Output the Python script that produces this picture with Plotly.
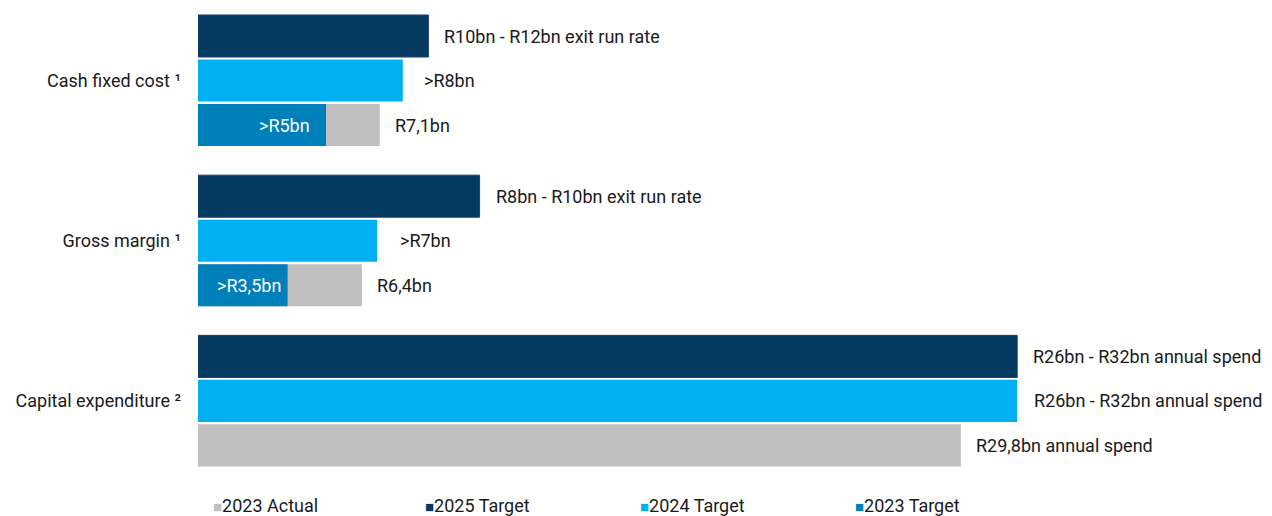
import plotly.graph_objects as go

# Categories (top to bottom) and the values behind each bar, in R billion
categories = ["Cash fixed cost ¹", "Gross margin ¹", "Capital expenditure ²"]
target_2025 = [9.0, 11.0, 32.0]
target_2024 = [8.0, 7.0, 32.0]
actual_2023 = [7.1, 6.4, 29.8]
target_2023 = [5.0, 3.5, None]

labels_2025 = ["R10bn - R12bn exit run rate", "R8bn - R10bn exit run rate", "R26bn - R32bn annual spend"]
labels_2024 = [">R8bn", ">R7bn", "R26bn - R32bn annual spend"]
labels_actual = ["R7,1bn", "R6,4bn", "R29,8bn annual spend"]
labels_t2023 = [">R5bn", ">R3,5bn", None]

legend_names = ["2023 Actual", "2025 Target", "2024 Target", "2023 Target"]

C_NAVY = "#053A60"
C_NAVY_EDGE = "#1E3F7C"
C_LIGHT = "#00B0F0"
C_MID = "#0080BA"
C_GREY = "#BFBFBF"
TXT = "#1A1A1A"
FONT = "Roboto"
FS = 18

W, H = 1272, 516
ML, MR, MT, MB = 198, 12, 0, 46
PW = W - ML - MR

# row layout: each group holds three rows, groups spaced 3.6 rows apart
GROUP = 3.6
y25 = [g * GROUP + 0 for g in range(3)]
y24 = [g * GROUP + 1 for g in range(3)]
y23 = [g * GROUP + 2 for g in range(3)]

fig = go.Figure()
BW = 0.945
fig.add_trace(go.Bar(y=y23, x=actual_2023, orientation="h", width=BW,
                     marker=dict(color=C_GREY, line=dict(width=0)), name=legend_names[0]))
fig.add_trace(go.Bar(y=y25, x=target_2025, orientation="h", width=BW,
                     marker=dict(color=C_NAVY, line=dict(color=C_NAVY_EDGE, width=1)), name=legend_names[1]))
fig.add_trace(go.Bar(y=y24, x=target_2024, orientation="h", width=BW,
                     marker=dict(color=C_LIGHT, line=dict(width=0)), name=legend_names[2]))
t23_y = [y for y, v in zip(y23, target_2023) if v is not None]
t23_x = [v for v in target_2023 if v is not None]
fig.add_trace(go.Bar(y=t23_y, x=t23_x, orientation="h", width=BW,
                     marker=dict(color=C_MID, line=dict(width=0)), name=legend_names[3]))

ann = []
def end_label(x, y, text, shift):
    ann.append(dict(x=x, y=y, xref="x", yref="y", text=text, showarrow=False,
                    xanchor="left", yanchor="middle", xshift=shift,
                    font=dict(family=FONT, size=FS, color=TXT)))

shift24 = [19, 21, 15]
for i in range(3):
    end_label(target_2025[i], y25[i], labels_2025[i], 14)
    end_label(target_2024[i], y24[i], labels_2024[i], shift24[i])
    end_label(actual_2023[i], y23[i], labels_actual[i], 13)
    if target_2023[i] is not None:
        ann.append(dict(x=target_2023[i], y=y23[i], xref="x", yref="y", text=labels_t2023[i],
                        showarrow=False, xanchor="right", yanchor="middle",
                        xshift=-14 if i == 0 else -5,
                        font=dict(family=FONT, size=FS, color="white")))

# legend row along the bottom
leg_colors = [C_GREY, C_NAVY, C_LIGHT, C_MID]
leg_px = [211, 423, 638, 853]
for name, col, px in zip(legend_names, leg_colors, leg_px):
    ann.append(dict(x=(px - ML) / PW, y=-(505 - (H - MB)) / (H - MT - MB), xref="paper", yref="paper",
                    text=f'<span style="color:{col};font-size:15px">■</span>{name}',
                    showarrow=False, xanchor="left", yanchor="middle",
                    font=dict(family=FONT, size=FS, color=TXT)))

fig.update_layout(
    width=W, height=H,
    margin=dict(l=ML, r=MR, t=MT, b=MB),
    barmode="overlay",
    showlegend=False,
    plot_bgcolor="white", paper_bgcolor="white",
    annotations=ann,
    xaxis=dict(range=[0, PW / 25.6], visible=False, fixedrange=True),
    yaxis=dict(range=[(H - MB - MT - 36) / 44.5, -36 / 44.5],
               tickvals=y24, ticktext=categories, showgrid=False, zeroline=False,
               showline=False, ticks="", ticklabelstandoff=16,
               tickfont=dict(family=FONT, size=FS, color=TXT)),
)

fig.write_html("out.html")
